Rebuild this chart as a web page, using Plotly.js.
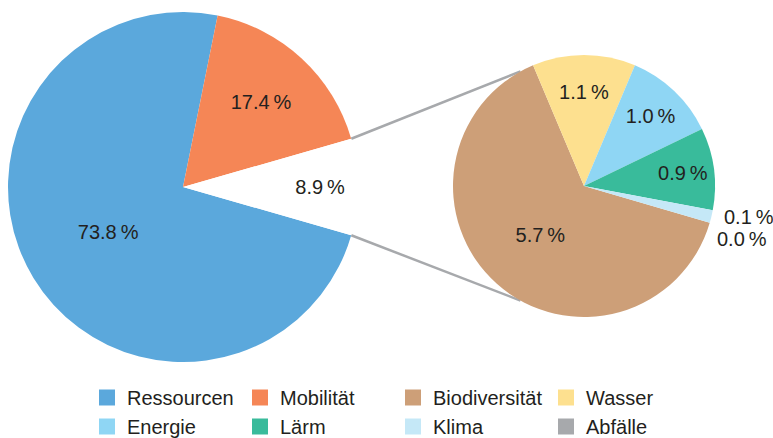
<!DOCTYPE html>
<html><head><meta charset="utf-8">
<script src="https://cdn.plot.ly/plotly-3.0.1.min.js"></script>
<style>html,body{margin:0;padding:0;background:#fff}#chart{width:773px;height:438px}</style>
</head><body><div id="chart"></div>
<script>
// ---- data ----
const mainLabels = ['Ressourcen', 'Mobilität'];
const mainValues = [73.8, 17.4];
const restLabel = 'Übrige';
const restValue = 8.9;
const mainColors = ['#5ba8dc', '#f58656'];

const detailLabels = ['Biodiversität', 'Wasser', 'Energie', 'Lärm', 'Klima', 'Abfälle'];
const detailValues = [5.7, 1.13, 1.02, 0.9, 0.14, 0.0];
const detailColors = ['#cd9f78', '#fde08f', '#8fd6f4', '#39bb9b', '#c5e8f7', '#a7a9ac'];
const detailInside = [true, true, true, true, false, false];

// ---- layout helpers ----
const W = 773, H = 438;
const MR = 40;                 // right margin (keeps legend to 4 columns)
const PW = W - MR;             // plot-area width
const FONT = '"Liberation Sans", Arial, sans-serif';
const TXT = '#231f20';
const fmt = v => v.toFixed(1) + '\u2009%';
const px = x => x / PW, py = y => 1 - y / H;
function dom(cx, cy, r) {
  return { x: [px(cx - r), px(cx + r)], y: [py(cy + r), py(cy - r)] };
}
const L = { cx: 183, cy: 187, r: 175 };
const R = { cx: 584, cy: 186, r: 131 };

const mainTotal = mainValues.reduce((a, b) => a + b, 0) + restValue;
const gapHalf = restValue / mainTotal * 180;           // degrees

const legendTrace = {
  type: 'pie', labels: mainLabels, values: mainValues, sort: false,
  marker: { colors: mainColors }, textinfo: 'none', hoverinfo: 'skip',
  domain: dom(110, 260, 6), showlegend: true
};
const mainTrace = {
  type: 'pie', labels: mainLabels.concat([restLabel]), values: mainValues.concat([restValue]),
  sort: false, direction: 'clockwise', rotation: 90 + gapHalf,
  marker: { colors: mainColors.concat(['#ffffff']), line: { width: 0 } },
  texttemplate: '%{value:.1f}\u2009%', textposition: 'inside', insidetextorientation: 'horizontal',
  insidetextfont: { family: FONT, size: 20, color: TXT },
  domain: dom(L.cx, L.cy, L.r), showlegend: false, hoverinfo: 'label+value'
};
const detailTrace = {
  type: 'pie', labels: detailLabels, values: detailValues,
  sort: false, direction: 'clockwise', rotation: 106.3,
  marker: { colors: detailColors, line: { width: 0 } },
  texttemplate: detailValues.map((v, i) => detailInside[i] ? '%{value:.1f}\u2009%' : ''),
  textposition: detailInside.map(b => b ? 'inside' : 'none'),
  insidetextorientation: 'horizontal',
  insidetextfont: { family: FONT, size: 20, color: TXT },
  domain: dom(R.cx, R.cy, R.r), showlegend: true, hoverinfo: 'label+value'
};

// connector lines from gap edges of the main pie to the detail pie
const rad = d => d * Math.PI / 180;
const linkAngle = 119;
function line(sign) {
  const x0 = L.cx + L.r * Math.cos(rad(gapHalf)), y0 = L.cy - sign * L.r * Math.sin(rad(gapHalf));
  const x1 = R.cx + R.r * Math.cos(rad(linkAngle)), y1 = R.cy - sign * R.r * Math.sin(rad(linkAngle));
  return { type: 'line', xref: 'paper', yref: 'paper', x0: px(x0), y0: py(y0), x1: px(x1), y1: py(y1),
    line: { color: '#a7a9ac', width: 2.5 }, layer: 'below' };
}

const outside = [];
const outPos = [[722, 217], [715, 239]];
let k = 0;
detailValues.forEach((v, i) => {
  if (!detailInside[i]) {
    outside.push({ xref: 'paper', yref: 'paper', x: px(outPos[k][0]), y: py(outPos[k][1]),
      xanchor: 'left', yanchor: 'middle', showarrow: false, text: fmt(v),
      font: { family: FONT, size: 20, color: TXT } });
    k++;
  }
});

const layout = {
  width: W, height: H, margin: { l: 0, r: MR, t: 0, b: 0, autoexpand: false },
  paper_bgcolor: '#fff', plot_bgcolor: '#fff',
  font: { family: FONT, color: TXT },
  shapes: [line(1), line(-1)],
  annotations: outside,
  legend: { orientation: 'h', x: px(87), xanchor: 'left', y: py(378), yanchor: 'top',
    entrywidth: 108, font: { family: FONT, size: 20, color: TXT }, traceorder: 'normal' }
};

Plotly.newPlot('chart', [legendTrace, mainTrace, detailTrace], layout, { displayModeBar: false, staticPlot: true })
  .then(gd => {
    gd.querySelectorAll('.legend .legendpoints path.legendpie').forEach(p => p.setAttribute('d', 'M8,8H-8V-8H8Z'));
  });
</script></body></html>
